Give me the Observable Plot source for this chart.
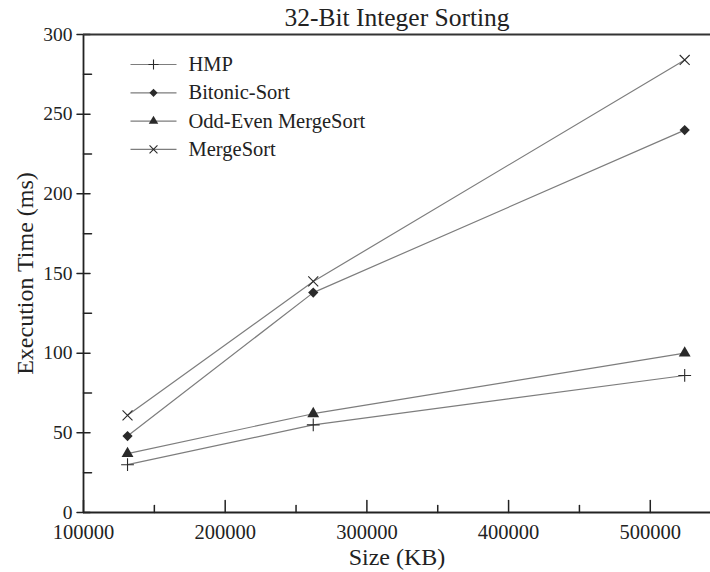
<!DOCTYPE html>
<html>
<head>
<meta charset="utf-8">
<script src="https://cdn.jsdelivr.net/npm/d3@7"></script>
<script src="https://cdn.jsdelivr.net/npm/@observablehq/plot@0.6"></script>
<style>
  html, body { margin: 0; padding: 0; background: #fff; }
  #chart svg, #chart svg text { font-family: "Liberation Serif", "Times New Roman", Tinos, serif !important; }
</style>
</head>
<body>
<div id="chart"></div>
<script>
// ---- data ----
const title = "32-Bit Integer Sorting";
const xLabel = "Size (KB)";
const yLabel = "Execution Time (ms)";
const sizes = [131072, 262144, 524288];
const seriesNames = ["HMP", "Bitonic-Sort", "Odd-Even MergeSort", "MergeSort"];
const hmp = [30, 55, 86];
const bitonic = [48, 138, 240];
const oddEven = [37, 62, 100];
const mergeSort = [61, 145, 284];
const xTicks = [100000, 200000, 300000, 400000, 500000];
const xMinorTicks = [150000, 250000, 350000, 450000];
const yTicks = [0, 50, 100, 150, 200, 250, 300];
const yMinorTicks = [25, 75, 125, 175, 225, 275];

// ---- styling ----
const seriesValues = [hmp, bitonic, oddEven, mergeSort];
const seriesSymbols = ["plus", "diamond2", "triangle", "times"];
const seriesFilled = [false, true, true, false];
const seriesR = [4.2, 4.6, 4.4, 4.6];
const font = "Liberation Serif";
const ink = "#222";
const lineColor = "#7d7d7d";

const rows = seriesNames.flatMap((s, i) =>
  sizes.map((x, j) => ({series: s, size: x, time: seriesValues[i][j]})));

const lineShape = {draw(ctx, l) { ctx.moveTo(0, 0); ctx.lineTo(0, -l); }};
const legendLine = {draw(ctx) { ctx.moveTo(-23, 0); ctx.lineTo(23, 0); }};

function markerOpts(i) {
  return seriesFilled[i]
    ? {symbol: seriesSymbols[i], r: seriesR[i], fill: "#2a2a2a", stroke: "none"}
    : {symbol: seriesSymbols[i], r: seriesR[i], fill: "none", stroke: "#2a2a2a", strokeWidth: 1.1};
}

const legendMarks = seriesNames.flatMap((name, i) => {
  const dy = 30 + i * 28.3;
  return [
    Plot.dot([name], {frameAnchor: "top-left", dx: 70, dy, symbol: legendLine, r: 1, stroke: lineColor, strokeWidth: 1.2, fill: "none"}),
    Plot.dot([name], {frameAnchor: "top-left", dx: 70, dy, ...markerOpts(i), r: seriesR[i] * 0.8}),
    Plot.text([name], {frameAnchor: "top-left", dx: 105, dy, text: d => d, textAnchor: "start", lineAnchor: "middle", fontSize: 20.5, fill: ink, fontFamily: font})
  ];
});

const chart = Plot.plot({
  width: 710,
  height: 572,
  marginLeft: 83,
  marginRight: 0,
  marginTop: 34,
  marginBottom: 60,
  style: {fontFamily: font, background: "#fff", color: ink},
  x: {domain: [100000, 542500]},
  y: {domain: [0, 300]},
  marks: [
    Plot.axisX({ticks: xTicks, tickSize: 0, tickPadding: 12, tickFormat: d => String(d), fontSize: 20.5, label: null, fill: ink}),
    Plot.axisY({ticks: yTicks, tickSize: 0, tickPadding: 11, tickFormat: d => String(d), fontSize: 19.5, label: null, fill: ink}),
    // tick marks
    Plot.vector(xTicks, {x: d => d, frameAnchor: "bottom", length: 12, anchor: "start", shape: lineShape, stroke: ink, strokeWidth: 1.5}),
    Plot.vector(xMinorTicks, {x: d => d, frameAnchor: "bottom", length: 7, anchor: "start", shape: lineShape, stroke: ink, strokeWidth: 1.5}),
    Plot.vector(yTicks, {y: d => d, frameAnchor: "left", rotate: 90, length: 13, anchor: "middle", shape: lineShape, stroke: ink, strokeWidth: 1.5}),
    Plot.vector(yMinorTicks, {y: d => d, frameAnchor: "left", rotate: 90, length: 8, anchor: "start", shape: lineShape, stroke: ink, strokeWidth: 1.5}),
    // frame lines
    Plot.ruleX([100000], {stroke: ink, strokeWidth: 1.8}),
    Plot.ruleY([0], {stroke: ink, strokeWidth: 1.8}),
    Plot.ruleY([300], {stroke: "#333", strokeWidth: 2.2}),
    // data
    Plot.line(rows, {x: "size", y: "time", z: "series", stroke: lineColor, strokeWidth: 1.2}),
    ...seriesNames.map((name, i) =>
      Plot.dot(rows.filter(r => r.series === name), {x: "size", y: "time", ...markerOpts(i)})),
    // legend
    ...legendMarks,
    // titles
    Plot.text([title], {frameAnchor: "top", dy: -17, text: d => d, textAnchor: "middle", lineAnchor: "middle", fontSize: 25.5, fill: ink, fontFamily: font}),
    Plot.text([xLabel], {frameAnchor: "bottom", dy: 45, text: d => d, textAnchor: "middle", lineAnchor: "middle", fontSize: 24, fill: ink, fontFamily: font}),
    Plot.text([yLabel], {frameAnchor: "left", dx: -58, rotate: -90, text: d => d, textAnchor: "middle", lineAnchor: "middle", fontSize: 24, fill: ink, fontFamily: font})
  ]
});
document.getElementById("chart").appendChild(chart);
</script>
</body>
</html>
